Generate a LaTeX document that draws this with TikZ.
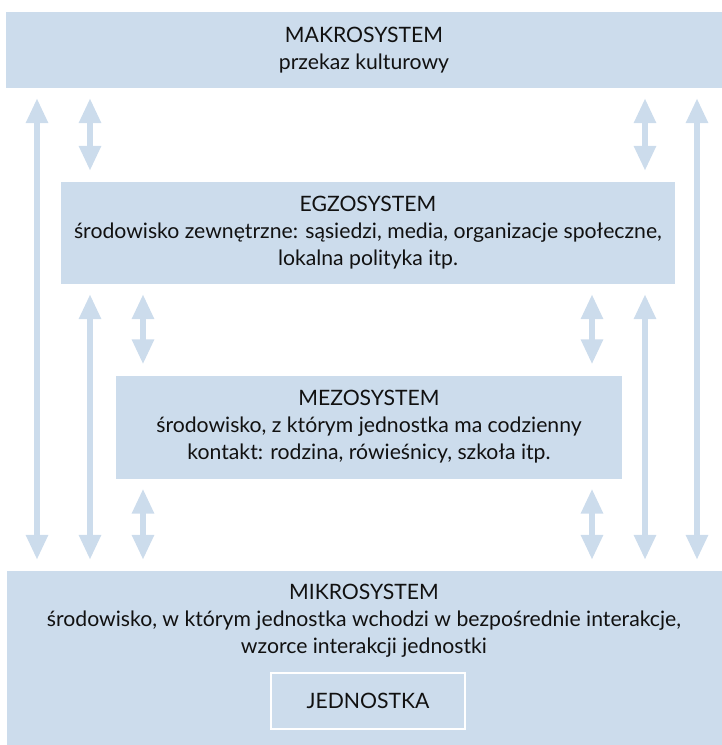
\documentclass[tikz,border=0pt]{standalone}
\usepackage{fontspec}
\setmainfont{Lato}
\usepackage{tikz}
\usetikzlibrary{positioning, arrows.meta}
\definecolor{cLayer}{HTML}{CCDCEC}
\definecolor{cText} {HTML}{111111}

\begin{document}
\begin{tikzpicture}[x=1pt, y=-1pt,
    layer/.style={fill=cLayer, inner sep=0pt, align=center, text=cText,
      font=\fontsize{21.2}{27}\selectfont},
    link/.style={draw=cLayer, line width=6pt,
      {Triangle[width=21pt, length=25pt]}-{Triangle[width=21pt, length=25pt]},
      shorten <=10pt, shorten >=11pt},
  ]
  \useasboundingbox (0,0) rectangle (722,745);
  % layers
  \node[layer, minimum width=716pt, minimum height=76pt] (makro) at (364,50)
    {MAKROSYSTEM\\przekaz kulturowy};
  \node[layer, minimum width=614pt, minimum height=102pt] (egzo) at (368,233)
    {EGZOSYSTEM\\środowisko zewnętrzne: sąsiedzi, media, organizacje społeczne,\\lokalna polityka itp.};
  \node[layer, minimum width=506pt, minimum height=103pt] (mezo) at (369,427)
    {MEZOSYSTEM\\środowisko, z którym jednostka ma codzienny\\kontakt: rodzina, rówieśnicy, szkoła itp.};
  \node[layer, minimum width=715pt, minimum height=174pt] (mikro) at (364.5,658) {};
  \node[layer, fill=none] (mikrotxt) at (364,621)
    {MIKROSYSTEM\\środowisko, w którym jednostka wchodzi w bezpośrednie interakcje,\\wzorce interakcji jednostki};
  \node[layer, draw=white, line width=2pt, minimum width=194pt, minimum height=56pt]
    (jedn) at (368,701) {JEDNOSTKA};
  % arrow columns
  \foreach \c/\x in {a/37, b/90, c/143, d/592, e/645, f/697}
    \coordinate (col\c) at (\x,0);
  % connectors
  \foreach \c in {a,f}
    \draw[link] (makro.south -| col\c) -- (mikro.north -| col\c);
  \foreach \c in {b,e} {
    \draw[link] (makro.south -| col\c) -- (egzo.north -| col\c);
    \draw[link] (egzo.south -| col\c) -- (mikro.north -| col\c);
  }
  \foreach \c in {c,d} {
    \draw[link] (egzo.south -| col\c) -- (mezo.north -| col\c);
    \draw[link] (mezo.south -| col\c) -- (mikro.north -| col\c);
  }
\end{tikzpicture}
\end{document}
